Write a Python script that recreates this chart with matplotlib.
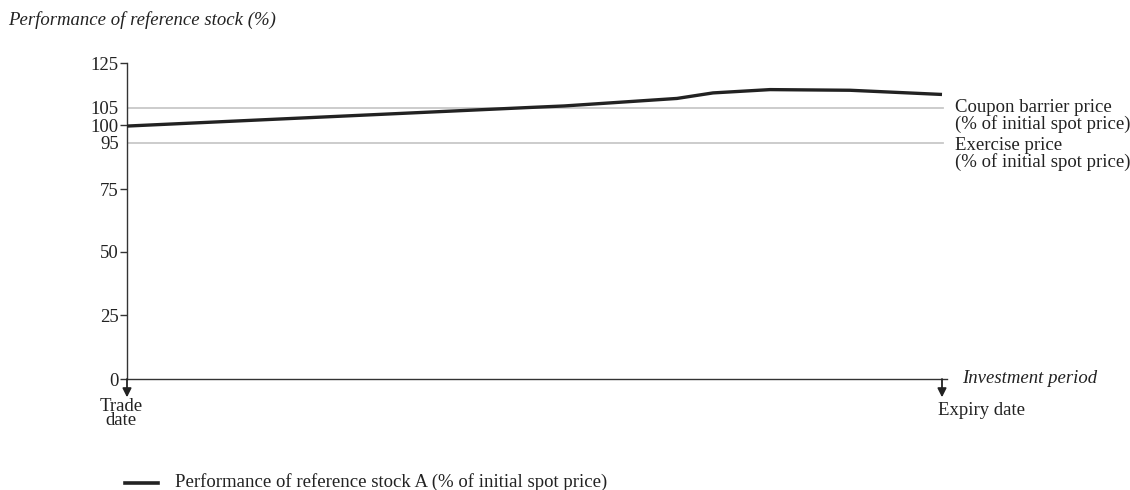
import numpy as np
import matplotlib
matplotlib.use('Agg')
import matplotlib.pyplot as plt

# schematic (piecewise linear) y axis: value -> drawn height
scale_values = [0, 25, 50, 75, 95, 100, 105, 125]
scale_heights = [0, 64, 127.3, 190, 236.3, 254, 271.5, 315.7]

# investment period as fraction (0 = trade date, 1 = expiry)
period = [0.0, 0.4933, 0.5365, 0.6748, 0.7190, 0.7890, 0.8871, 1.0]
stock_a = [99.7, 105.0, 105.7, 109.1, 111.6, 113.1, 112.8, 110.9]

y_ticks = [0, 25, 50, 75, 100, 125]
y_minor_ticks = [95, 105]
coupon_barrier = 105
exercise_price = 95

plt.rcParams['font.family'] = ['Liberation Serif', 'DejaVu Serif']

sv = np.array(scale_values, dtype=float)
sh = np.array(scale_heights, dtype=float)
sv_ext = np.concatenate([[-1000], sv, [1000]])
sh_ext = np.concatenate([[sh[0] - 1000 * (sh[1] - sh[0]) / (sv[1] - sv[0])], sh,
                         [sh[-1] + (1000 - sv[-1]) * (sh[-1] - sh[-2]) / (sv[-1] - sv[-2])]])


def fwd(v):
    return np.interp(v, sv_ext, sh_ext)


def inv(h):
    return np.interp(h, sh_ext, sv_ext)


W, H = 1130, 490
FS = 13.5
fig = plt.figure(figsize=(W / 100, H / 100), dpi=100)
ax = fig.add_axes([127 / W, 111 / H, 820 / W, 315.7 / H])
ax.set_yscale('function', functions=(fwd, inv))
ax.set_ylim(0, 125)
ax.set_xlim(0, 820 / 815)

ax.axhline(coupon_barrier, color='#c8c8c8', lw=1.3, zorder=1, xmax=0.995)
ax.axhline(exercise_price, color='#c8c8c8', lw=1.3, zorder=1, xmax=0.995)

ax.plot(period, stock_a, color='#222222', lw=2.4, solid_capstyle='butt',
        solid_joinstyle='round', zorder=3)

for s in ['top', 'right']:
    ax.spines[s].set_visible(False)
for s in ['left', 'bottom']:
    ax.spines[s].set_color('#333333')
    ax.spines[s].set_linewidth(1.0)

ax.set_yticks(y_ticks)
ax.set_yticklabels([str(v) for v in y_ticks])
ax.set_yticks(y_minor_ticks, minor=True)
ax.set_yticklabels([str(v) for v in y_minor_ticks], minor=True)
ax.tick_params(axis='y', which='major', length=5, width=1, color='#333333',
               labelsize=FS, pad=1, labelcolor='#222222')
ax.tick_params(axis='y', which='minor', length=0, labelsize=FS, pad=6,
               labelcolor='#222222')
ax.set_xticks([])

# arrows for trade date and expiry date
for xv in [0.0, 1.0]:
    ax.annotate('', xy=(xv, -0.058), xycoords=('data', 'axes fraction'),
                xytext=(xv, 0), textcoords=('data', 'axes fraction'),
                arrowprops=dict(arrowstyle='-|>', color='#222222', lw=1.3,
                                mutation_scale=13, shrinkA=0, shrinkB=0),
                annotation_clip=False)

fig.text(8 / W, 1 - 20 / H, 'Performance of reference stock (%)', fontsize=FS,
         style='italic', color='#222222', va='center', ha='left')

fig.text(955 / W, 1 - 116 / H, 'Coupon barrier price\n(% of initial spot price)',
         fontsize=FS, color='#222222', va='center', ha='left', linespacing=1.0)
fig.text(955 / W, 1 - 154 / H, 'Exercise price\n(% of initial spot price)',
         fontsize=FS, color='#222222', va='center', ha='left', linespacing=1.0)

fig.text(962 / W, 1 - 378 / H, 'Investment period', fontsize=FS, style='italic',
         color='#222222', va='center', ha='left')
fig.text(938 / W, 1 - 410 / H, 'Expiry date', fontsize=FS, color='#222222',
         va='center', ha='left')
fig.text(121 / W, 1 - 413.5 / H, 'Trade\ndate', fontsize=FS, color='#222222',
         va='center', ha='center', linespacing=0.82)

# legend
fig.add_artist(plt.Line2D([125 / W, 158 / W], [1 - 483 / H, 1 - 483 / H],
                          color='#222222', lw=2.6))
fig.text(175 / W, 1 - 482 / H,
         'Performance of reference stock A (% of initial spot price)',
         fontsize=FS, color='#222222', va='center', ha='left')

fig.savefig('out.png', dpi=100)
